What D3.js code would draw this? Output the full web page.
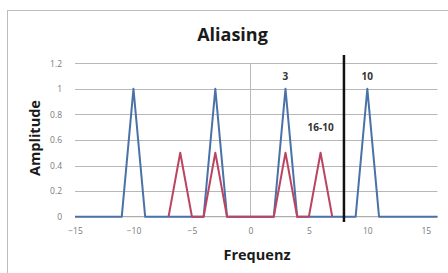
<!DOCTYPE html>
<html><head><meta charset="utf-8">
<script src="https://cdn.jsdelivr.net/npm/d3@7"></script>
<style>body{margin:0;background:#fff}svg{display:block}</style>
</head><body>
<script>
// Data
const blueX = [-15, -11, -10, -9, -4, -3, -2, 2, 3, 4, 9, 10, 11, 16];
const blueY = [0, 0, 1, 0, 0, 1, 0, 0, 1, 0, 0, 1, 0, 0];
const redX = [-7, -6, -5, -4, -3, -2, 2, 3, 4, 5, 6, 7];
const redY = [0, 0.5, 0, 0, 0.5, 0, 0, 0.5, 0, 0, 0.5, 0];
const nyquistX = 8;
const xTicks = [-15, -10, -5, 0, 5, 10, 15];
const yTicks = [0, 0.2, 0.4, 0.6, 0.8, 1, 1.2];
const annotations = [
  {x: 3, y: 1.09, text: "3"},
  {x: 10, y: 1.09, text: "10"},
  {x: 6, y: 0.69, text: "16-10"}
];

const W = 448, H = 273;
const svg = d3.select("body").append("svg").attr("width", W).attr("height", H);
svg.append("rect").attr("x", 7.5).attr("y", 10.5).attr("width", 460).attr("height", 280)
  .attr("fill", "#fff").attr("stroke", "#bdbdbd");

const x = d3.scaleLinear().domain([-15, 16]).range([75, 437.5]);
const y = d3.scaleLinear().domain([0, 1.2]).range([216.7, 63.3]);

// gridlines
svg.append("g").selectAll("line").data(yTicks.slice(1)).join("line")
  .attr("x1", x(-15)).attr("x2", x(16))
  .attr("y1", d => Math.round(y(d)) + 0.5).attr("y2", d => Math.round(y(d)) + 0.5)
  .attr("stroke", "#b8b8b8").attr("stroke-width", 1);

// y axis at x=0
svg.append("line").attr("x1", Math.round(x(0)) + 0.5).attr("x2", Math.round(x(0)) + 0.5)
  .attr("y1", y(1.2)).attr("y2", y(0)).attr("stroke", "#b8b8b8");
// x axis line
svg.append("line").attr("x1", x(-15)).attr("x2", x(16))
  .attr("y1", y(0)).attr("y2", y(0)).attr("stroke", "#999");

// tick labels
const yAxis = d3.axisLeft(y).tickValues(yTicks).tickSize(0).tickPadding(0)
  .tickFormat(d => d3.format("~g")(d));
const gy = svg.append("g").attr("transform", "translate(62,0)").call(yAxis);
gy.select(".domain").remove();
gy.selectAll("text").attr("fill", "#7a7a7a").style("font-family", "Open Sans, sans-serif").style("font-size", "8.5px");

const xAxis = d3.axisBottom(x).tickValues(xTicks).tickSize(0).tickPadding(0);
const gx = svg.append("g").attr("transform", "translate(0,228)").call(xAxis);
gx.select(".domain").remove();
gx.selectAll("text").attr("fill", "#7a7a7a").style("font-family", "Open Sans, sans-serif").style("font-size", "8.5px");

const line = d3.line().x(d => x(d[0])).y(d => y(d[1]));
const blue = blueX.map((v, i) => [v, blueY[i]]);
const red = redX.map((v, i) => [v, redY[i]]);
svg.append("path").attr("d", line(blue)).attr("fill", "none")
  .attr("stroke", "#4a72a8").attr("stroke-width", 2).attr("stroke-linejoin", "round");
svg.append("path").attr("d", line(red)).attr("fill", "none")
  .attr("stroke", "#bb4560").attr("stroke-width", 2).attr("stroke-linejoin", "round");

// Nyquist line
svg.append("line").attr("x1", x(nyquistX)).attr("x2", x(nyquistX))
  .attr("y1", 55).attr("y2", 222).attr("stroke", "#111").attr("stroke-width", 2.5);

// annotations
svg.append("g").selectAll("text").data(annotations).join("text")
  .attr("x", d => x(d.x)).attr("y", d => y(d.y)).attr("text-anchor", "middle")
  .attr("dominant-baseline", "middle")
  .style("font-family", "Open Sans, sans-serif").style("font-size", "10px").style("font-weight", "bold")
  .attr("fill", "#333").text(d => d.text);

// titles
svg.append("text").attr("x", 232.5).attr("y", 41).attr("text-anchor", "middle")
  .style("font-family", "Open Sans, sans-serif").style("font-size", "18px").style("font-weight", "bold")
  .attr("fill", "#1a1a1a").text("Aliasing");
svg.append("text").attr("x", 257).attr("y", 260).attr("text-anchor", "middle")
  .style("font-family", "Open Sans, sans-serif").style("font-size", "14.5px").style("font-weight", "bold")
  .attr("fill", "#1a1a1a").text("Frequenz");
svg.append("text").attr("transform", "translate(40,138) rotate(-90)").attr("text-anchor", "middle")
  .style("font-family", "Open Sans, sans-serif").style("font-size", "14.5px").style("font-weight", "bold")
  .attr("fill", "#1a1a1a").text("Amplitude");
</script>
</body></html>
